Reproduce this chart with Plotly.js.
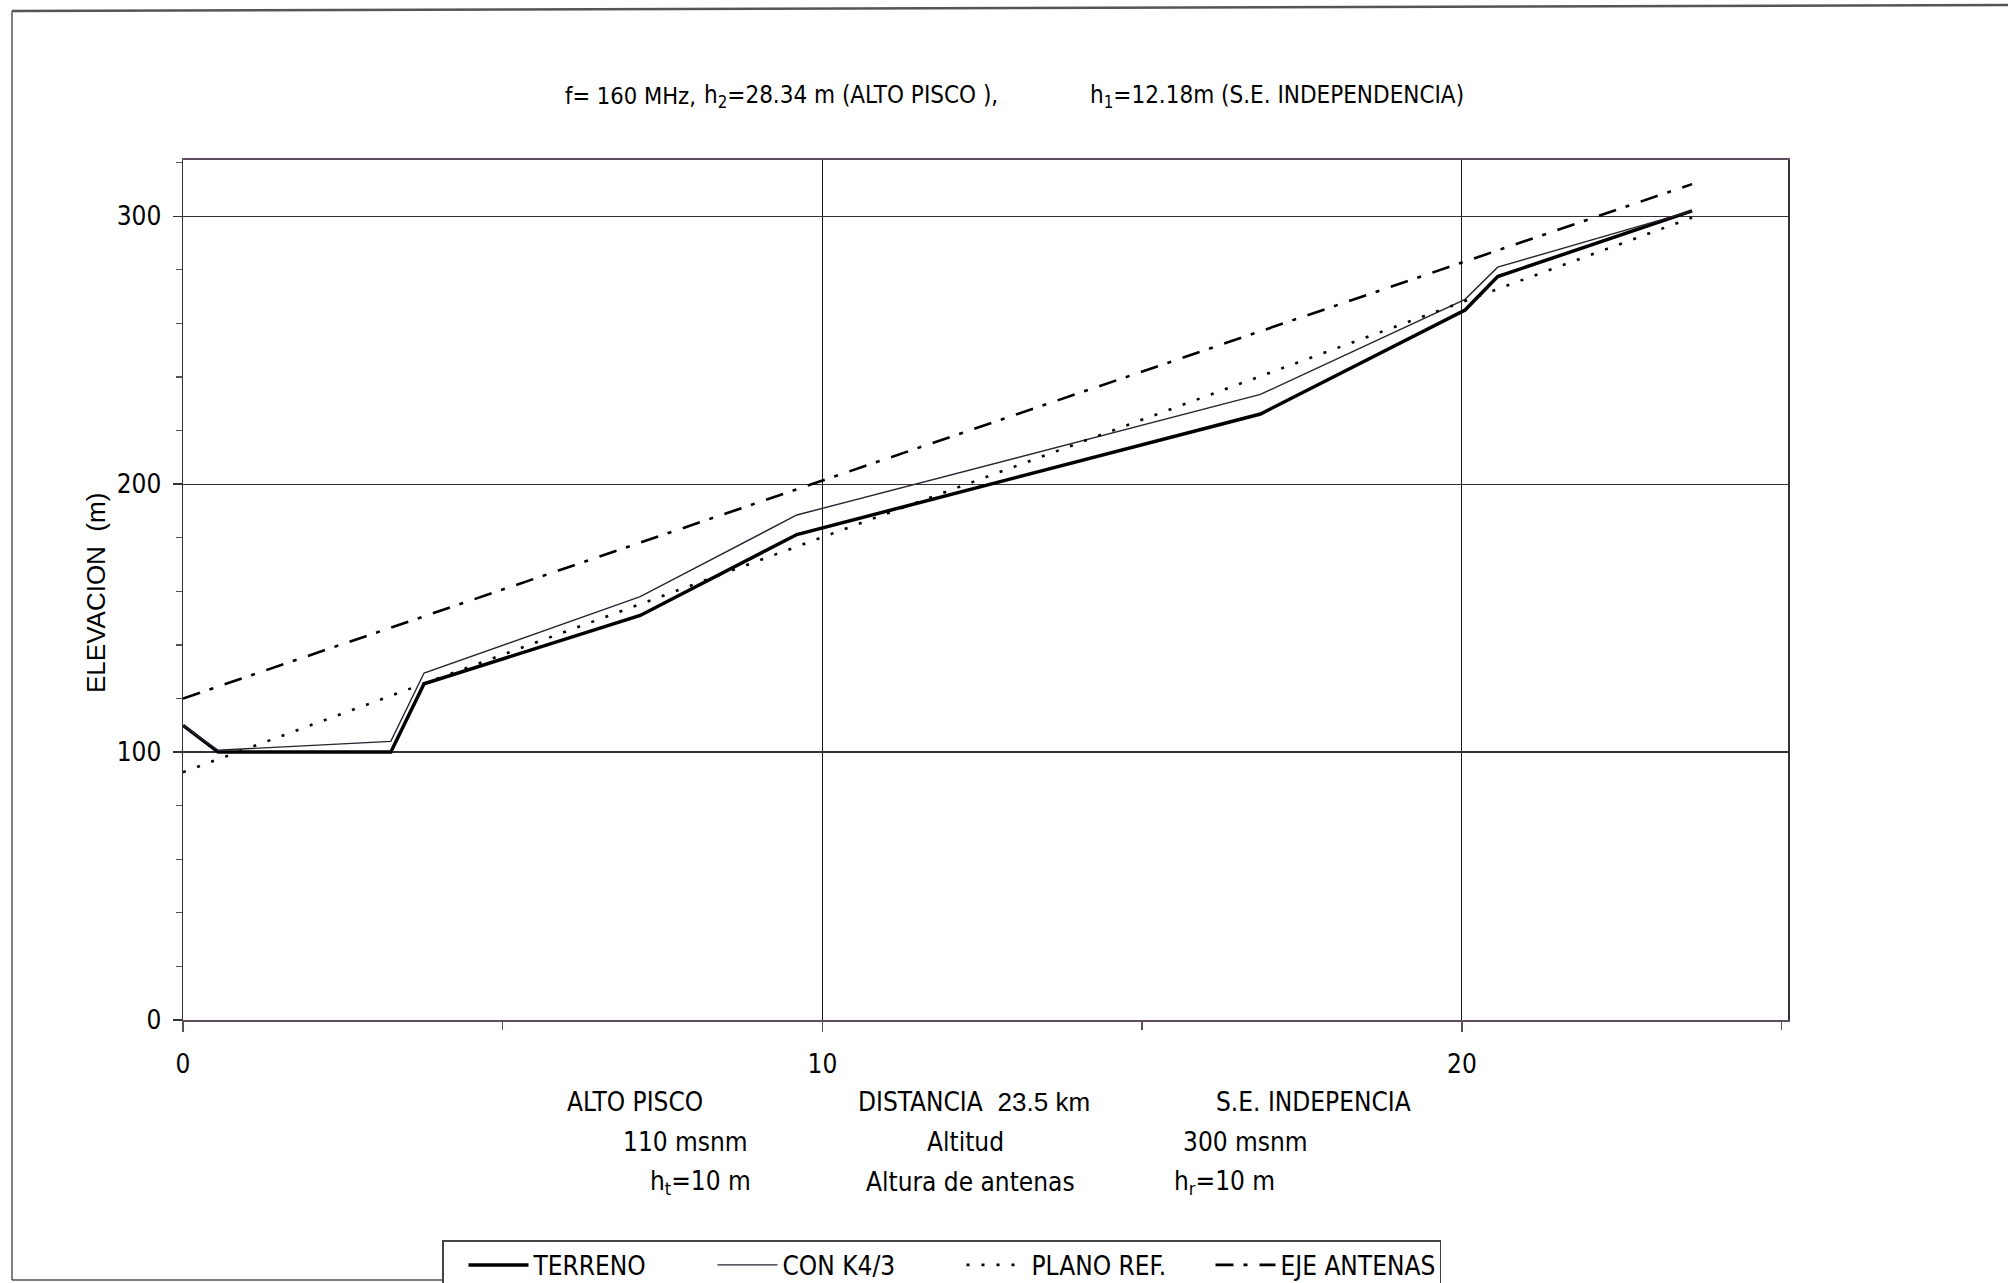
<!DOCTYPE html>
<html>
<head>
<meta charset="utf-8">
<script src="https://cdn.plot.ly/plotly-3.0.1.min.js"></script>
<style>html,body{margin:0;padding:0;background:#fff;}</style>
</head>
<body>
<div id="chart" style="width:2008px;height:1283px;"></div>
<script>
// ---- data ----
const distKm   = [0, 0.55, 3.25, 3.77, 7.15, 9.6, 16.85, 20.05, 20.56, 23.6];
const terreno  = [110, 100, 100, 125.5, 151, 181.2, 226.2, 265, 277.5, 302];
const conK43   = [110, 100.7, 104, 129.5, 158, 188.5, 233.5, 269, 281, 302];
const planoX   = [0, 23.6];
const planoRef = [92.5, 299.5];
const ejeX     = [0, 23.6];
const ejeAnt   = [120, 312];
const seriesNames = ['TERRENO', 'CON K4/3', 'PLANO REF.', 'EJE ANTENAS'];
const xTickVals = [0, 10, 20];
const xTickText = ['0', '10', '20'];
const yTickVals = [0, 100, 200, 300];

// ---- style ----
const NARROW = '"Liberation Sans Narrow", "Arial Narrow", "DejaVu Sans Condensed", "Liberation Sans", sans-serif';
const REG = '"Liberation Sans", Arial, sans-serif';
const FS = 26;
const L = 183, R = 1788, T = 160, B = 1020;
const px = x => (x - L) / (R - L);
const py = y => (B - y) / (B - T);

const traces = [
  {x: distKm, y: terreno, name: seriesNames[0], mode: 'lines', line: {color: '#000', width: 3.5}},
  {x: distKm, y: conK43, name: seriesNames[1], mode: 'lines', line: {color: '#2b2230', width: 1.4}},
  {x: planoX, y: planoRef, name: seriesNames[2], mode: 'lines', line: {color: '#000', width: 2.6, dash: '3px,12px'}},
  {x: ejeX, y: ejeAnt, name: seriesNames[3], mode: 'lines', line: {color: '#000', width: 2.6, dash: '18px,10px,4px,12px'}}
];

function ann(text, x, y, opts) {
  return Object.assign({
    text: text, x: px(x), y: py(y), xref: 'paper', yref: 'paper',
    showarrow: false, xanchor: 'center', yanchor: 'middle',
    font: {family: NARROW, size: FS, color: '#000'}
  }, opts || {});
}

const TFONT = {family: NARROW, size: 24, color: '#000'};
const annotations = [
  ann('f= 160 MHz,', 563, 96, {xanchor: 'left', font: {family: NARROW, size: 23.5, color: '#000'}}),
  ann('h<sub>2</sub>=28.34 m (ALTO PISCO ),', 702, 96, {xanchor: 'left', font: TFONT}),
  ann('h<sub>1</sub>=12.18m (S.E. INDEPENDENCIA)', 1088, 96, {xanchor: 'left', font: TFONT}),
  ann('ELEVACION  (m)', 96, 593, {textangle: -90, font: {family: REG, size: 26, color: '#000'}}),
  ann('ALTO PISCO', 635, 1102),
  ann('110 msnm', 685, 1142),
  ann('h<sub>t</sub>=10 m', 700, 1182),
  ann('DISTANCIA  <span style="font-family:\'Liberation Sans\', Arial, sans-serif;">23.5 km</span>', 974, 1102),
  ann('Altitud', 965, 1142),
  ann('Altura de antenas', 970, 1182),
  ann('S.E. INDEPENCIA', 1313, 1102),
  ann('300 msnm', 1245, 1142),
  ann('h<sub>r</sub>=10 m', 1224, 1182)
];

const shapes = [
  {type: 'line', xref: 'paper', yref: 'paper', x0: px(12), y0: py(11), x1: px(2008), y1: py(5), line: {color: '#555', width: 2.5}},
  {type: 'line', xref: 'paper', yref: 'paper', x0: px(12), y0: py(11), x1: px(12), y1: py(1280), line: {color: '#555', width: 1.5}},
  {type: 'line', xref: 'paper', yref: 'paper', x0: px(12), y0: py(1280), x1: px(442), y1: py(1280), line: {color: '#555', width: 1.5}}
];

const layout = {
  width: 2008, height: 1283, autosize: false,
  margin: {l: L, r: 2008 - R, t: T, b: 1283 - B, pad: 0, autoexpand: false},
  paper_bgcolor: '#fff', plot_bgcolor: '#fff',
  font: {family: NARROW, size: FS, color: '#000'},
  showlegend: true,
  legend: {
    orientation: 'h', x: px(442), y: py(1240), xanchor: 'left', yanchor: 'top',
    bgcolor: '#fff', bordercolor: '#444', borderwidth: 1.5,
    font: {family: NARROW, size: FS, color: '#000'},
    entrywidth: 154, entrywidthmode: 'pixels', itemwidth: 60, indentation: 20
  },
  xaxis: {
    range: [0, 25.1], tickmode: 'array', tickvals: xTickVals, ticktext: xTickText,
    ticks: 'outside', ticklen: 10, tickwidth: 1.5, tickcolor: '#5e4d5c',
    minor: {dtick: 5, tick0: 0, ticks: 'outside', ticklen: 8, tickwidth: 1.5, tickcolor: '#5e4d5c', showgrid: false},
    showline: true, linecolor: '#5e4d5c', linewidth: 2, mirror: true,
    showgrid: true, gridcolor: '#1a1a1a', gridwidth: 1.2,
    zeroline: false, ticklabelstandoff: 10,
    tickfont: {family: NARROW, size: FS, color: '#000'}
  },
  yaxis: {
    range: [0, 321], tickmode: 'array', tickvals: yTickVals,
    ticks: 'outside', ticklen: 9, tickwidth: 1.5, tickcolor: '#333',
    minor: {dtick: 20, tick0: 0, ticks: 'outside', ticklen: 6, tickwidth: 1.2, tickcolor: '#555', showgrid: false},
    showline: true, linecolor: '#333', linewidth: 1.5, mirror: true,
    showgrid: true, gridcolor: '#3a2d37', gridwidth: 1.2,
    zeroline: false, ticklabelstandoff: 6,
    tickfont: {family: NARROW, size: FS, color: '#000'}
  },
  annotations: annotations,
  shapes: shapes
};

Plotly.newPlot('chart', traces, layout, {staticPlot: true, displayModeBar: false});
</script>
</body>
</html>
